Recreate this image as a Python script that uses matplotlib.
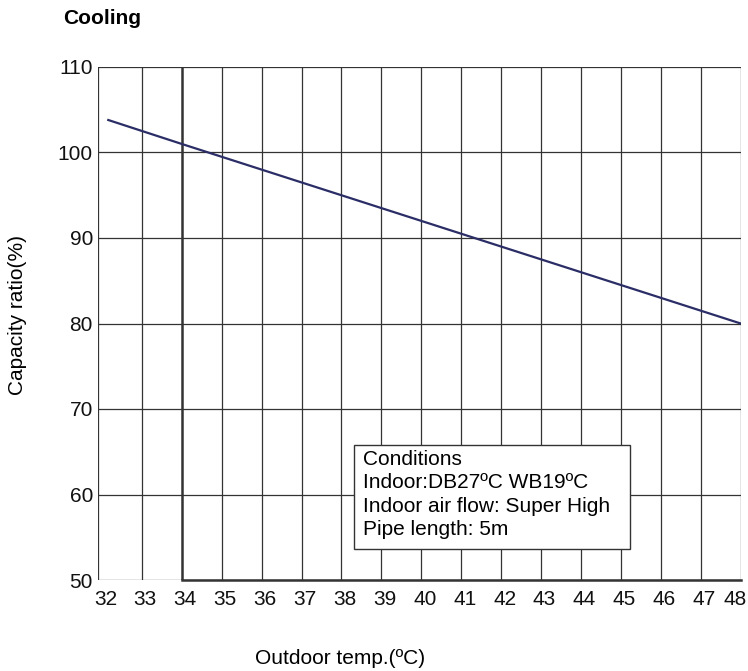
import matplotlib.pyplot as plt
from matplotlib.patches import Rectangle
from matplotlib.transforms import ScaledTranslation

plt.rcParams['font.family'] = ['Liberation Sans', 'DejaVu Sans']

# data
outdoor_temp = [32.16, 34, 36, 38, 40, 42, 44, 46, 48]
capacity_ratio = [103.8, 101.0, 98.0, 95.0, 92.0, 89.0, 86.0, 83.0, 80.0]

x_ticks = list(range(32, 49))
y_ticks = [50, 60, 70, 80, 90, 100, 110]

conditions = ["Conditions",
              "Indoor:DB27ºC WB19ºC",
              "Indoor air flow: Super High",
              "Pipe length: 5m"]

fig = plt.figure(figsize=(7.48, 6.71), dpi=100)
ax = fig.add_axes([97.7 / 748, 1 - 580 / 671, (740.7 - 97.7) / 748, (580 - 67) / 671])

grid_color = "#333333"
# the left frame sits a little left of the 32 position in the original
ax.set_xlim(31.895, 48)
ax.set_ylim(50, 110)
ax.axvline(31.895, color=grid_color, lw=0.9, zorder=1)
for x in x_ticks[1:]:
    lw = 1.8 if x == 34 else 0.9
    ax.axvline(x, color=grid_color, lw=lw, zorder=1)
for y in y_ticks:
    ax.axhline(y, color=grid_color, lw=0.9, zorder=1)
# heavier frame on the lower edge from 34 on
ax.plot([34, 48], [50, 50], color=grid_color, lw=1.8, zorder=1, clip_on=False)

ax.plot(outdoor_temp, capacity_ratio, color="#2b2d66", lw=1.6, zorder=3)

ax.set_xticks(x_ticks)
ax.set_yticks(y_ticks)
ax.tick_params(length=0, labelsize=15, colors="#111111")
ax.tick_params(axis="y", pad=3.4)
ax.tick_params(axis="x", pad=7)
for s in ax.spines.values():
    s.set_visible(False)

# labels in the original sit slightly right of their grid lines
for i, lab in enumerate(ax.get_xticklabels()):
    dx = -5.5 if i == len(x_ticks) - 1 else 3.5
    lab.set_transform(lab.get_transform() + ScaledTranslation(dx / 100, 0, fig.dpi_scale_trans))

# conditions box
ax.add_patch(Rectangle((0.3988, 0.0604), 0.4292, 0.2027, transform=ax.transAxes,
                       fc="white", ec="#333333", lw=1, zorder=5))
ax.text(0.4126, 0.254, "\n".join(conditions), transform=ax.transAxes,
        fontsize=15, va="top", ha="left", linespacing=1.3, zorder=6)

fig.text(63 / 748, 1 - 18 / 671, "Cooling", fontsize=15, fontweight="bold",
         ha="left", va="center")
fig.text(18 / 748, 1 - 315 / 671, "Capacity ratio(%)", fontsize=15,
         rotation=90, ha="center", va="center")
fig.text(340 / 748, 1 - 658 / 671, "Outdoor temp.(ºC)", fontsize=15,
         ha="center", va="center")

fig.savefig("out.png", dpi=100)
